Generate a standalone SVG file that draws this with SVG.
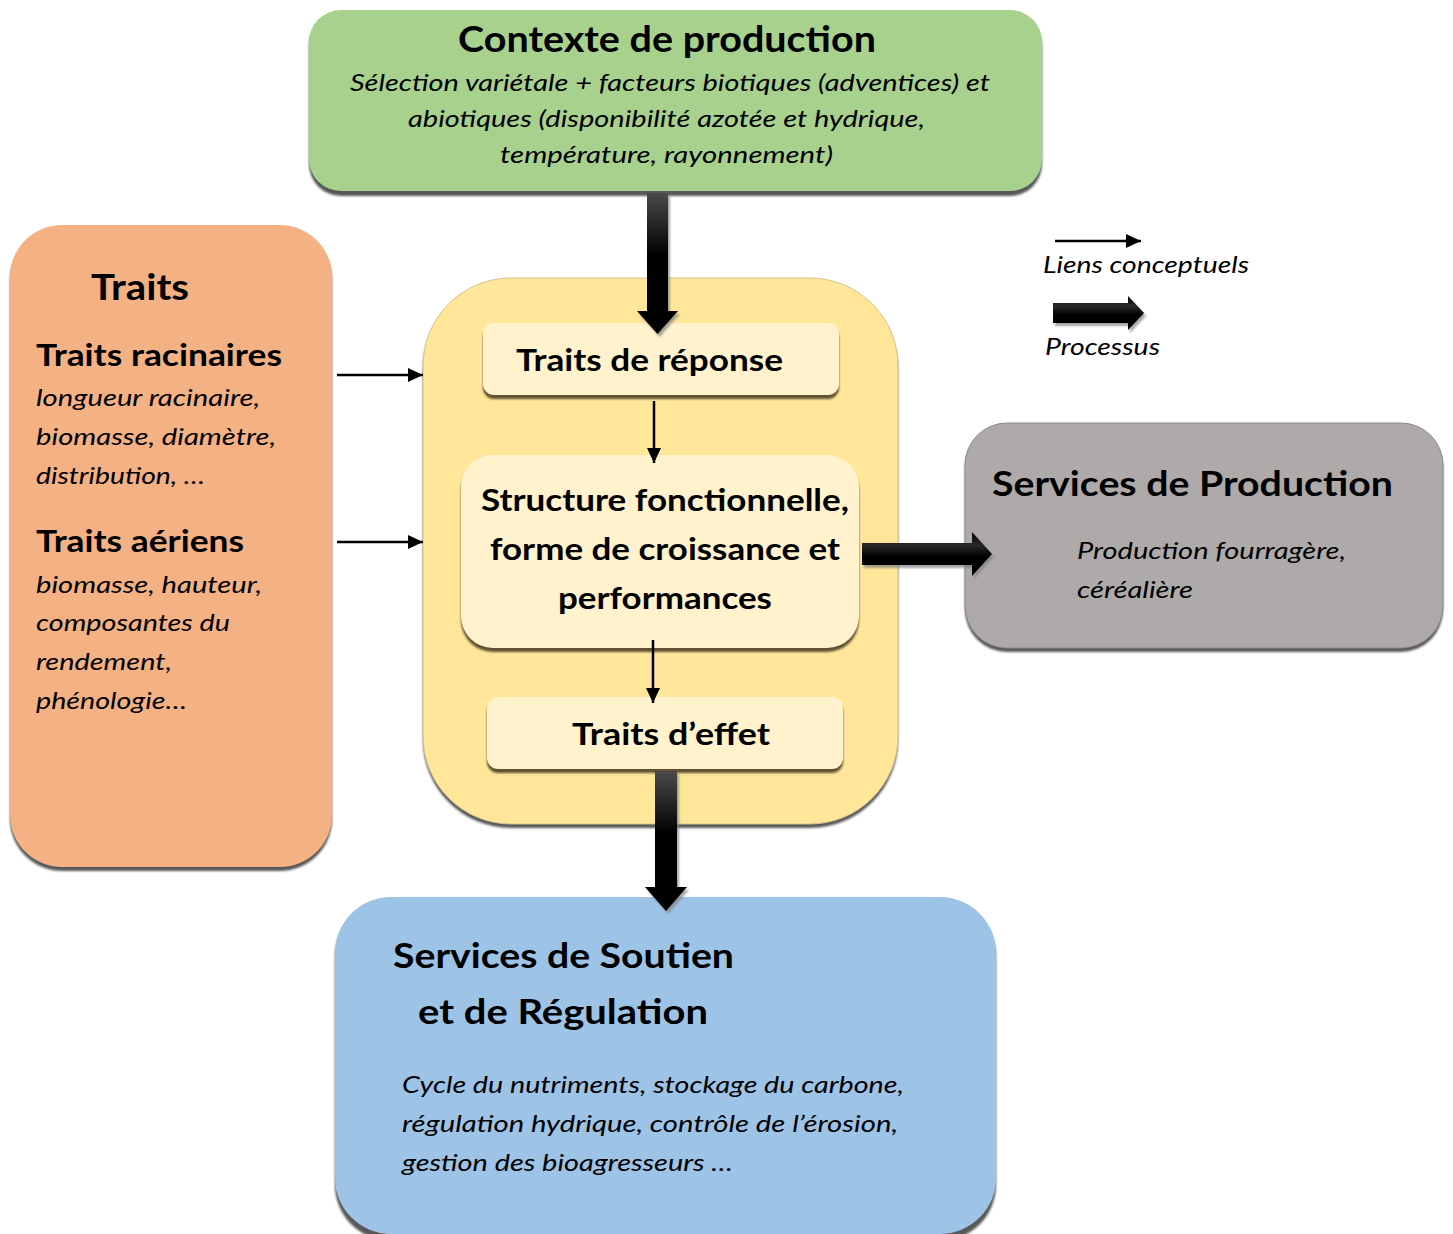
<svg xmlns="http://www.w3.org/2000/svg" width="1453" height="1234" viewBox="0 0 1453 1234">
<defs>
<style>
text{font-family:Lato,"Open Sans","Liberation Sans",sans-serif;fill:#000}
.b{font-weight:bold}
.i{font-style:italic}
.sh{fill:#595959;filter:url(#blur)}
.shb{fill:#5e5132;filter:url(#blur)}
.thin{stroke:#000;stroke-width:2.5;fill:none;marker-end:url(#ah)}
.ashadow{fill:#808080;opacity:0.7;filter:url(#blur)}
</style>
<filter id="blur" x="-5%" y="-5%" width="110%" height="110%"><feGaussianBlur stdDeviation="1"/></filter>
<marker id="ah" markerUnits="userSpaceOnUse" markerWidth="15" markerHeight="14" refX="15" refY="7" orient="auto"><path d="M0,0 L15,7 L0,14 z" fill="#000"/></marker>
<linearGradient id="gdown" x1="0" y1="0" x2="0" y2="1"><stop offset="0" stop-color="#4a4a4a"/><stop offset="0.45" stop-color="#000"/><stop offset="1" stop-color="#000"/></linearGradient>
<linearGradient id="gright" x1="0" y1="0" x2="0" y2="1"><stop offset="0" stop-color="#000"/><stop offset="0.3" stop-color="#2a2a2a"/><stop offset="0.55" stop-color="#000"/><stop offset="1" stop-color="#000"/></linearGradient>
</defs>

<g id="contexte">
<rect class="sh" x="309" y="14" width="733" height="182" rx="32"/>
<rect x="309" y="10" width="733" height="181" rx="32" fill="#a9d18e"/>
<text class="b" x="667" y="52" font-size="36" text-anchor="middle" textLength="418" lengthAdjust="spacingAndGlyphs">Contexte de production</text>
<text class="i" x="670" y="91" font-size="24" text-anchor="middle" textLength="640" lengthAdjust="spacingAndGlyphs">Sélection variétale + facteurs biotiques (adventices) et</text>
<text class="i" x="666.5" y="127" font-size="24" text-anchor="middle" textLength="517" lengthAdjust="spacingAndGlyphs">abiotiques (disponibilité azotée et hydrique,</text>
<text class="i" x="666.5" y="163" font-size="24" text-anchor="middle" textLength="333" lengthAdjust="spacingAndGlyphs">température, rayonnement)</text>
</g>

<g id="traits">
<rect class="sh" x="10" y="229" width="322" height="642" rx="52"/>
<rect x="10" y="225" width="322" height="642" rx="52" fill="#f4b183"/>
<text class="b" x="91" y="300" font-size="36" textLength="98" lengthAdjust="spacingAndGlyphs">Traits</text>
<text class="b" x="36" y="366" font-size="31" textLength="246" lengthAdjust="spacingAndGlyphs">Traits racinaires</text>
<text class="i" x="36" y="406" font-size="24" textLength="224" lengthAdjust="spacingAndGlyphs">longueur racinaire,</text>
<text class="i" x="36" y="445" font-size="24" textLength="240" lengthAdjust="spacingAndGlyphs">biomasse, diamètre,</text>
<text class="i" x="36" y="484" font-size="24" textLength="169" lengthAdjust="spacingAndGlyphs">distribution, …</text>
<text class="b" x="36" y="552" font-size="31" textLength="208" lengthAdjust="spacingAndGlyphs">Traits aériens</text>
<text class="i" x="36" y="593" font-size="24" textLength="226" lengthAdjust="spacingAndGlyphs">biomasse, hauteur,</text>
<text class="i" x="36" y="631" font-size="24" textLength="194" lengthAdjust="spacingAndGlyphs">composantes du</text>
<text class="i" x="36" y="670" font-size="24" textLength="136" lengthAdjust="spacingAndGlyphs">rendement,</text>
<text class="i" x="36" y="709" font-size="24" textLength="151" lengthAdjust="spacingAndGlyphs">phénologie…</text>
</g>

<g id="plante">
<rect class="sh" x="423" y="282" width="475" height="546" rx="88"/>
<rect x="423" y="278" width="475" height="546" rx="88" fill="#ffe699" stroke="#d2c38c" stroke-width="1"/>
</g>

<g id="reponse">
<rect class="shb" x="483" y="327" width="356" height="72" rx="11"/>
<rect x="483" y="323" width="356" height="72" rx="11" fill="#fff2cc"/>
<text class="b" x="649.5" y="371" font-size="31" text-anchor="middle" textLength="267" lengthAdjust="spacingAndGlyphs">Traits de réponse</text>
</g>

<g id="structure">
<rect class="shb" x="461" y="459" width="398" height="193" rx="32"/>
<rect x="461" y="455" width="398" height="193" rx="32" fill="#fff2cc"/>
<text class="b" x="665" y="511" font-size="31" text-anchor="middle" textLength="368" lengthAdjust="spacingAndGlyphs">Structure fonctionnelle,</text>
<text class="b" x="665" y="560" font-size="31" text-anchor="middle" textLength="350" lengthAdjust="spacingAndGlyphs">forme de croissance et</text>
<text class="b" x="665" y="609" font-size="31" text-anchor="middle" textLength="214" lengthAdjust="spacingAndGlyphs">performances</text>
</g>

<g id="effet">
<rect class="shb" x="487" y="701" width="356" height="72" rx="11"/>
<rect x="487" y="697" width="356" height="72" rx="11" fill="#fff2cc"/>
<text class="b" x="671" y="745" font-size="31" text-anchor="middle" textLength="198" lengthAdjust="spacingAndGlyphs">Traits d’effet</text>
</g>

<g id="production">
<rect class="sh" x="965" y="427" width="478" height="225" rx="42"/>
<rect x="965" y="423" width="478" height="225" rx="42" fill="#aeaaaa" stroke="#8e8a8a" stroke-width="1"/>
<text class="b" x="992" y="496" font-size="35" textLength="401" lengthAdjust="spacingAndGlyphs">Services de Production</text>
<text class="i" x="1077" y="559" font-size="24" textLength="269" lengthAdjust="spacingAndGlyphs">Production fourragère,</text>
<text class="i" x="1077" y="598" font-size="24" textLength="116" lengthAdjust="spacingAndGlyphs">céréalière</text>
</g>

<g id="soutien">
<rect class="sh" x="335" y="901" width="661" height="340" rx="56"/>
<rect x="335" y="897" width="661" height="337" rx="56" fill="#9dc3e6"/>
<text class="b" x="393" y="968" font-size="35" textLength="341" lengthAdjust="spacingAndGlyphs">Services de Soutien</text>
<text class="b" x="418" y="1024" font-size="35" textLength="290" lengthAdjust="spacingAndGlyphs">et de Régulation</text>
<text class="i" x="402" y="1093" font-size="24" textLength="502" lengthAdjust="spacingAndGlyphs">Cycle du nutriments, stockage du carbone,</text>
<text class="i" x="402" y="1132" font-size="24" textLength="496" lengthAdjust="spacingAndGlyphs">régulation hydrique, contrôle de l’érosion,</text>
<text class="i" x="402" y="1171" font-size="24" textLength="331" lengthAdjust="spacingAndGlyphs">gestion des bioagresseurs …</text>
</g>

<g id="connectors">
<line class="thin" x1="337" y1="375" x2="423" y2="375"/>
<line class="thin" x1="337" y1="542" x2="423" y2="542"/>
<line class="thin" x1="654" y1="401" x2="654" y2="463"/>
<line class="thin" x1="653" y1="640" x2="653" y2="703"/>
<polygon class="ashadow" transform="translate(2,3)" points="647,193 668,193 668,311 678,311 657.5,334 637,311 647,311"/>
<polygon fill="url(#gdown)" points="647,193 668,193 668,311 678,311 657.5,334 637,311 647,311"/>
<polygon class="ashadow" transform="translate(2,3)" points="862,543 972,543 972,532 992,554 972,576 972,565 862,565"/>
<polygon fill="url(#gright)" points="862,543 972,543 972,532 992,554 972,576 972,565 862,565"/>
<polygon class="ashadow" transform="translate(2,3)" points="655,771 677,771 677,887 687,887 666,911 645,887 655,887"/>
<polygon fill="url(#gdown)" points="655,771 677,771 677,887 687,887 666,911 645,887 655,887"/>
</g>

<g id="legende">
<line class="thin" x1="1055" y1="241" x2="1141" y2="241"/>
<text class="i" x="1043" y="273" font-size="24" textLength="206" lengthAdjust="spacingAndGlyphs">Liens conceptuels</text>
<polygon class="ashadow" transform="translate(2,3)" points="1053,303 1128,303 1128,296 1144,313 1128,330 1128,323 1053,323"/>
<polygon fill="url(#gright)" points="1053,303 1128,303 1128,296 1144,313 1128,330 1128,323 1053,323"/>
<text class="i" x="1045" y="355" font-size="24" textLength="115" lengthAdjust="spacingAndGlyphs">Processus</text>
</g>
</svg>
